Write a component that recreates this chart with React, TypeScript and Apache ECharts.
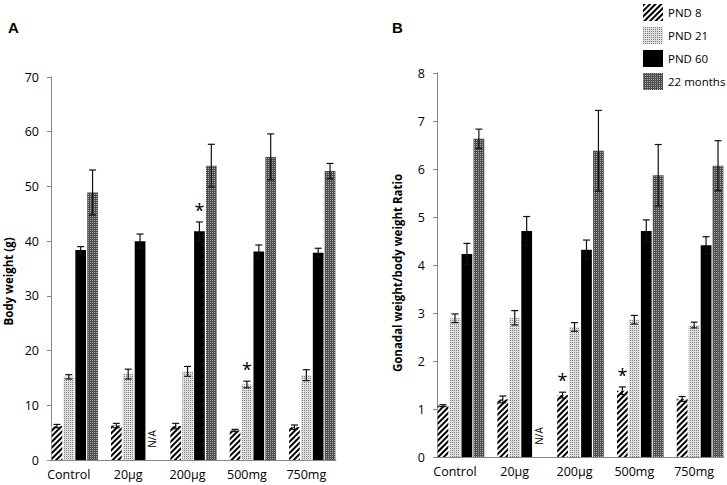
import React, { useEffect, useRef } from "react";
import * as echarts from "echarts";

// ---- Data ----
const categories = ["Control", "20µg", "200µg", "500mg", "750mg"];
const seriesNames = ["PND 8", "PND 21", "PND 60", "22 months"];

// Panel A: Body weight (g)
const bwPnd8 = [6.2, 6.3, 6.2, 5.4, 6.0];
const bwPnd8Err = [0.3, 0.4, 0.5, 0.2, 0.4];
const bwPnd21 = [15.2, 15.7, 16.2, 13.8, 15.5];
const bwPnd21Err = [0.4, 0.9, 0.9, 0.6, 1.0];
const bwPnd60 = [38.4, 40.0, 41.8, 38.1, 37.9];
const bwPnd60Err = [0.6, 1.3, 1.7, 1.2, 0.8];
const bw22m = [48.9, null, 53.8, 55.4, 52.8];
const bw22mErr = [4.1, null, 3.9, 4.2, 1.4];
const bwSignificant = [
  ["200µg", "PND 60"],
  ["500mg", "PND 21"],
];

// Panel B: Gonadal weight / body weight ratio
const grPnd8 = [1.07, 1.2, 1.29, 1.38, 1.21];
const grPnd8Err = [0.02, 0.07, 0.06, 0.08, 0.05];
const grPnd21 = [2.89, 2.9, 2.71, 2.86, 2.75];
const grPnd21Err = [0.09, 0.15, 0.09, 0.09, 0.06];
const grPnd60 = [4.23, 4.71, 4.32, 4.71, 4.41];
const grPnd60Err = [0.22, 0.3, 0.2, 0.23, 0.18];
const gr22m = [6.63, null, 6.38, 5.87, 6.07];
const gr22mErr = [0.2, null, 0.84, 0.64, 0.52];
const grSignificant = [
  ["200µg", "PND 8"],
  ["500mg", "PND 8"],
];

const yTicksA = { min: 0, max: 70, interval: 10 };
const yTicksB = { min: 0, max: 8, interval: 1 };

// ---- Helpers ----
const SLOTS_PER_GROUP = 5;
const N_SLOTS = (categories.length - 1) * SLOTS_PER_GROUP + seriesNames.length; // 24
const slotIndex = (k: number, s: number) => k * SLOTS_PER_GROUP + s;
const slotCats = Array.from({ length: N_SLOTS }, (_, i) => "s" + i);

function slotData(values: (number | null)[], s: number) {
  const arr: any[] = new Array(N_SLOTS).fill("-");
  values.forEach((v, k) => {
    arr[slotIndex(k, s)] = v == null ? "-" : v;
  });
  return arr;
}

function errItems(
  means: (number | null)[][],
  errs: (number | null)[][],
  sig: string[][]
) {
  const items: any[] = [];
  means.forEach((vals, s) => {
    vals.forEach((v, k) => {
      const isSig = sig.some(
        (p) => p[0] === categories[k] && p[1] === seriesNames[s]
      );
      if (v == null) items.push([slotIndex(k, s), 0, 0, 0, 1]);
      else items.push([slotIndex(k, s), v, errs[s][k], isSig ? 1 : 0, 0]);
    });
  });
  return items;
}

const barStyles: any[] = [
  {
    color: "#ffffff",
    decal: {
      symbol: "rect",
      symbolSize: 1,
      dashArrayX: [1, 0],
      dashArrayY: [2, 2],
      rotation: -Math.PI / 4,
      color: "#000000",
    },
  },
  {
    color: "#e0e0e0",
    decal: {
      symbol: "rect",
      symbolSize: 1,
      dashArrayX: [1, 1],
      dashArrayY: [1, 1],
      color: "#808080",
    },
  },
  { color: "#000000" },
  {
    color: "#4e4e4e",
    decal: {
      symbol: "rect",
      symbolSize: 1,
      dashArrayX: [1, 1],
      dashArrayY: [1, 1],
      color: "#a8a8a8",
    },
  },
];

const FONT = "Open Sans";
const AXIS_COLOR = "#868686";

function renderErr(params: any, api: any) {
  const slot = api.value(0);
  const mean = api.value(1);
  const err = api.value(2);
  const sig = api.value(3);
  const na = api.value(4);
  if (na) {
    const p = api.coord([slot, 0]);
    return {
      type: "text",
      x: p[0],
      y: p[1] - 21,
      rotation: Math.PI / 2,
      style: {
        text: "N/A",
        fontSize: 10,
        fontFamily: FONT,
        fill: "#000",
        align: "center",
        verticalAlign: "middle",
      },
    };
  }
  const top = api.coord([slot, mean + err]);
  const bot = api.coord([slot, mean - err]);
  const x = top[0];
  const hw = 3.5;
  const ls = { stroke: "#111", lineWidth: 1.2 };
  const children: any[] = [
    { type: "line", shape: { x1: x, y1: top[1], x2: x, y2: bot[1] }, style: ls },
    { type: "line", shape: { x1: x - hw, y1: top[1], x2: x + hw, y2: top[1] }, style: ls },
    { type: "line", shape: { x1: x - hw, y1: bot[1], x2: x + hw, y2: bot[1] }, style: ls },
  ];
  if (sig) {
    children.push({
      type: "text",
      x: x,
      y: top[1] - 12,
      style: {
        text: "*",
        fontSize: 18,
        fontFamily: FONT,
        fill: "#000",
        align: "center",
        verticalAlign: "middle",
      },
    });
  }
  return { type: "group", children };
}

function buildOption() {
  const panels = [
    {
      means: [bwPnd8, bwPnd21, bwPnd60, bw22m],
      errs: [bwPnd8Err, bwPnd21Err, bwPnd60Err, bw22mErr],
      sig: bwSignificant,
    },
    {
      means: [grPnd8, grPnd21, grPnd60, gr22m],
      errs: [grPnd8Err, grPnd21Err, grPnd60Err, gr22mErr],
      sig: grSignificant,
    },
  ];
  const series: any[] = [];
  panels.forEach((p, c) => {
    p.means.forEach((vals, s) => {
      series.push({
        type: "bar",
        name: seriesNames[s],
        xAxisIndex: c,
        yAxisIndex: c,
        data: slotData(vals, s),
        barGap: "-100%",
        barCategoryGap: "10%",
        itemStyle: barStyles[s],
      });
    });
    series.push({
      type: "custom",
      xAxisIndex: c,
      yAxisIndex: c,
      data: errItems(p.means, p.errs, p.sig),
      encode: { x: 0, y: 1 },
      renderItem: renderErr,
      z: 10,
      silent: true,
    });
  });

  const xAxisBase = (i: number) => ({
    type: "category",
    gridIndex: i,
    data: slotCats,
    axisLine: { lineStyle: { color: AXIS_COLOR } },
    axisTick: { interval: 0, length: 5, lineStyle: { color: AXIS_COLOR } },
    axisLabel: {
      interval: 0,
      margin: 8,
      fontSize: 12.5,
      fontFamily: FONT,
      color: "#000",
      formatter: (_v: string, idx: number) =>
        idx % SLOTS_PER_GROUP === 1 ? categories[(idx - 1) / SLOTS_PER_GROUP] : "",
    },
  });

  const yAxisBase = (i: number, t: any, name: string, gap: number, pad: number) => ({
    type: "value",
    gridIndex: i,
    min: t.min,
    max: t.max,
    interval: t.interval,
    name,
    nameLocation: "middle",
    nameGap: gap,
    nameTextStyle: {
      fontWeight: "bold",
      fontSize: 11.5,
      fontFamily: FONT,
      color: "#000",
      padding: [0, pad, 0, 0],
    },
    axisLine: { show: true, lineStyle: { color: AXIS_COLOR } },
    axisTick: { show: true, length: 4, lineStyle: { color: AXIS_COLOR } },
    splitLine: { show: false },
    axisLabel: { fontSize: 12.5, fontFamily: FONT, color: "#000", margin: 12 },
  });

  return {
    animation: false,
    textStyle: { fontFamily: FONT },
    title: [
      { text: "A", left: 3, top: 15, textStyle: { fontFamily: "Liberation Sans", fontWeight: "bold", fontSize: 15, color: "#000" } },
      { text: "B", left: 387, top: 15, textStyle: { fontFamily: "Liberation Sans", fontWeight: "bold", fontSize: 15, color: "#000" } },
    ],
    legend: {
      data: seriesNames,
      orient: "vertical",
      left: 638,
      top: -1,
      itemWidth: 20,
      itemHeight: 17,
      itemGap: 6,
      icon: "rect",
      textStyle: { fontSize: 11.5, fontFamily: FONT, color: "#000" },
      selectedMode: false,
    },
    grid: [
      { left: 51, top: 77, width: 285, height: 383 },
      { left: 437, top: 73, width: 287, height: 384 },
    ],
    xAxis: [xAxisBase(0), xAxisBase(1)],
    yAxis: [
      yAxisBase(0, yTicksA, "Body weight (g)", 37, 26),
      yAxisBase(1, yTicksB, "Gonadal weight/body weight Ratio", 34, 16),
    ],
    series,
  };
}

export default function App() {
  const ref = useRef<HTMLDivElement>(null);
  useEffect(() => {
    if (!ref.current) return;
    const chart = echarts.init(ref.current, null, { renderer: "svg" });
    chart.setOption(buildOption() as any);
    return () => chart.dispose();
  }, []);
  return <div ref={ref} style={{ width: 727, height: 485, position: "absolute", left: 0, top: 0, background: "#fff" }} />;
}
